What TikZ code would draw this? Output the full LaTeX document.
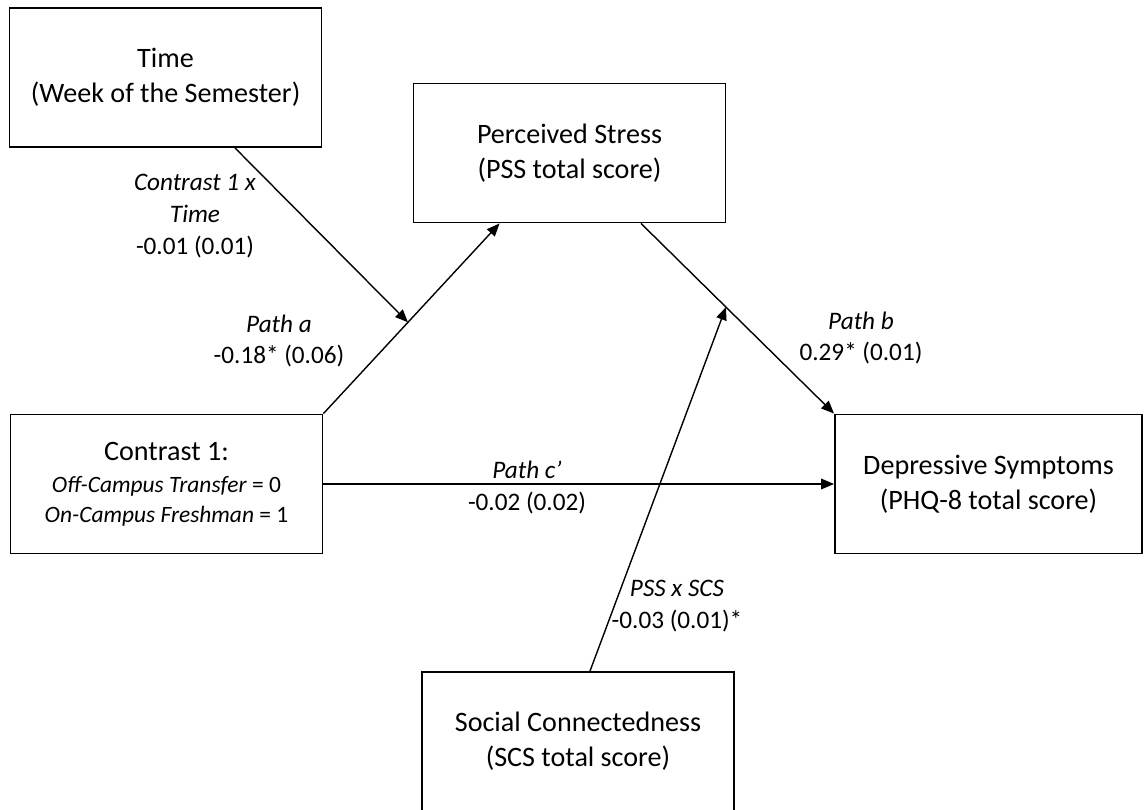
\documentclass[tikz,border=0pt]{standalone}
\usepackage{fontspec}
\setmainfont{Carlito}
\usepackage{tikz}
\usetikzlibrary{positioning, calc, arrows.meta}
\newcommand{\contrastsize}{\fontsize{20}{24}\selectfont}

\begin{document}
\begin{tikzpicture}[x=0.03cm, y=-0.03cm,
    varbox/.style={draw, line width=1.6pt, minimum width=9.36cm, minimum height=4.17cm,
                   align=center, inner sep=0pt, font=\fontsize{24}{30}\selectfont},
    effect/.style={line width=1.2pt, -{Triangle[length=11pt, width=9pt]}},
    coef/.style={align=center, inner sep=0pt, font=\fontsize{21.5}{27}\selectfont}]
    \useasboundingbox (0,0) rectangle (1144,810);

    % Variables
    \node[varbox] (time) at (165.5,77.5) {Time\\(Week of the Semester)};
    \node[varbox] (pss) at (569.5,153) {Perceived Stress\\(PSS total score)};
    \node[varbox, font=\fontsize{24}{25}\selectfont] (ctr) at (166.5,484) {Contrast 1:\\[3pt]
        \contrastsize\textit{Off-Campus Transfer} = 0\\
        \contrastsize\textit{On-Campus Freshman} = 1};
    \node[varbox, minimum width=9.21cm] (dep) at (988.5,484) {Depressive Symptoms\\(PHQ-8 total score)};
    \node[varbox] (scs) at (578,741.5) {Social Connectedness\\(SCS total score)};

    % Points where the paths meet
    \coordinate (aend) at ($(pss.south west)+(87,0)$);
    \coordinate (bstart) at ($(pss.south)+(71.5,0)$);
    \coordinate (timeout) at ($(time.south)+(69.5,0)$);
    \coordinate (scsout) at ($(scs.north)+(12,0)$);
    \coordinate (aon) at ($(ctr.north east)!0.48!(aend)$);
    \coordinate (bon) at ($(bstart)!0.44!(dep.north west)$);

    % Paths
    \draw[effect] (ctr.north east) -- (aend);
    \draw[effect] (timeout) -- (aon);
    \draw[effect] (bstart) -- (dep.north west);
    \draw[effect] (ctr.east) -- (dep.west);
    \draw[effect] (scsout) -- (bon);

    % Coefficients
    \node[coef] (lbltime) at (195,216) {\textit{Contrast 1 x}\\\textit{Time}\\-0.01 (0.01)};
    \node[coef] (lbla) at (279,341) {\textit{Path a}\\-0.18* (0.06)};
    \node[coef] (lblb) at (861,338) {\textit{Path b}\\0.29* (0.01)};
    \node[coef] (lblc) at (527,470) {\textit{Path c’}};
    \node[coef] (lblcval) at (527,503) {-0.02 (0.02)};
    \node[coef] (lblmod) at (677,606) {\textit{PSS x SCS}\\-0.03 (0.01)*};
\end{tikzpicture}
\end{document}
